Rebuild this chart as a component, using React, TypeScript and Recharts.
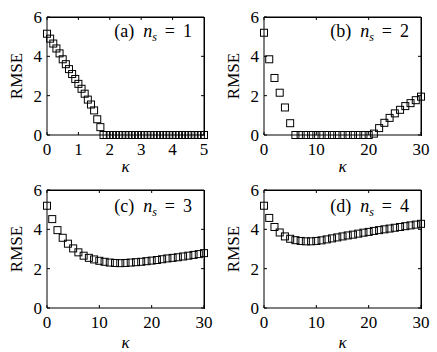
import React from 'react';
import { ScatterChart, Scatter, XAxis, YAxis, CartesianGrid } from 'recharts';

const kappaA = [
  0, 0.1, 0.2, 0.3, 0.4, 0.5, 0.6, 0.7, 0.8, 0.9,
  1.0, 1.1, 1.2, 1.3, 1.4, 1.5, 1.6, 1.7, 1.8, 1.9,
  2.0, 2.1, 2.2, 2.3, 2.4, 2.5, 2.6, 2.7, 2.8, 2.9,
  3.0, 3.1, 3.2, 3.3, 3.4, 3.5, 3.6, 3.7, 3.8, 3.9,
  4.0, 4.1, 4.2, 4.3, 4.4, 4.5, 4.6, 4.7, 4.8, 4.9, 5.0,
];
const rmseA = [
  5.15, 4.9, 4.65, 4.4, 4.15, 3.85, 3.6, 3.35, 3.1, 2.85,
  2.6, 2.35, 2.1, 1.8, 1.55, 1.25, 0.8, 0.4, 0, 0,
  0, 0, 0, 0, 0, 0, 0, 0, 0, 0,
  0, 0, 0, 0, 0, 0, 0, 0, 0, 0,
  0, 0, 0, 0, 0, 0, 0, 0, 0, 0, 0,
];

const kappaBCD = [
  0, 1, 2, 3, 4, 5, 6, 7, 8, 9, 10, 11, 12, 13, 14, 15,
  16, 17, 18, 19, 20, 21, 22, 23, 24, 25, 26, 27, 28, 29, 30,
];
const rmseB = [
  5.2, 3.85, 2.9, 2.15, 1.4, 0.6, 0, 0, 0, 0, 0, 0, 0, 0, 0, 0,
  0, 0, 0, 0, 0, 0.07, 0.35, 0.62, 0.87, 1.1, 1.28, 1.47, 1.62, 1.77, 1.95,
];
const rmseC = [
  5.2, 4.52, 3.96, 3.57, 3.27, 3.03, 2.83, 2.66, 2.55, 2.47, 2.4, 2.35, 2.31, 2.29, 2.28, 2.29,
  2.31, 2.33, 2.35, 2.38, 2.41, 2.44, 2.48, 2.52, 2.55, 2.58, 2.62, 2.66, 2.7, 2.74, 2.79,
];
const rmseD = [
  5.2, 4.58, 4.12, 3.84, 3.64, 3.52, 3.45, 3.41, 3.39, 3.39, 3.41, 3.44, 3.49, 3.54, 3.59, 3.64,
  3.69, 3.73, 3.78, 3.83, 3.87, 3.92, 3.96, 4.0, 4.04, 4.08, 4.12, 4.16, 4.2, 4.24, 4.28,
];

const xTicksA = [0, 1, 2, 3, 4, 5];
const xTicksBCD = [0, 10, 20, 30];
const yTicks = [0, 2, 4, 6];

const FONT = '"Liberation Serif", serif';
const W = 220;
const H = 176;
const Y_AXIS_W = 47;
const RIGHT = 16;
const PLOT_RIGHT = W - RIGHT;

const Square = (p: any) => (
  <rect x={p.cx - 3.5} y={p.cy - 3.5} width={7} height={7} fill="none" stroke="#000" strokeWidth={1} />
);

const XTick = (p: any) => (
  <text x={p.x} y={p.y} dy={12} textAnchor="middle" fontFamily={FONT} fontSize={17} fill="#000">
    {p.payload.value}
  </text>
);
const YTick = (p: any) => (
  <text x={p.x} y={p.y} dy={6} textAnchor="end" fontFamily={FONT} fontSize={17} fill="#000">
    {p.payload.value}
  </text>
);

type PanelProps = {
  left: number;
  top: number;
  xs: number[];
  ys: number[];
  xMax: number;
  xTicks: number[];
  letter: string;
  ns: string;
  plotTop: number;
  axisH: number;
  titleY: number;
};

const Panel = ({ left, top, xs, ys, xMax, xTicks, letter, ns, plotTop, axisH, titleY }: PanelProps) => {
  const data = xs.map((x, i) => ({ x, y: ys[i] }));
  const plotBottom = H - axisH;
  const midY = (plotTop + plotBottom) / 2;

  const hLine = (p: any) => {
    if (Math.abs(p.y1 - plotTop) < 0.6) {
      return <line key={p.key} x1={p.x1} y1={p.y1} x2={p.x2} y2={p.y2} stroke="#000" strokeWidth={1} />;
    }
    return <line key={p.key} x1={p.x2 - 3} y1={p.y1} x2={p.x2} y2={p.y2} stroke="#000" strokeWidth={1} />;
  };
  const vLine = (p: any) => {
    if (Math.abs(p.x1 - PLOT_RIGHT) < 0.6) {
      return <line key={p.key} x1={p.x1} y1={p.y1} x2={p.x2} y2={p.y2} stroke="#000" strokeWidth={1} />;
    }
    return <line key={p.key} x1={p.x1} y1={p.y1} x2={p.x2} y2={p.y1 + 3} stroke="#000" strokeWidth={1} />;
  };

  return (
    <>
      <div style={{ position: 'absolute', left, top, width: W, height: H }}>
        <ScatterChart width={W} height={H} margin={{ top: plotTop, right: RIGHT, left: 0, bottom: 0 }}>
          <CartesianGrid xAxisId="bottom" yAxisId="left" horizontal={hLine} vertical={vLine} stroke="#000" />
          <XAxis
            xAxisId="bottom"
            type="number"
            dataKey="x"
            domain={[0, xMax]}
            ticks={xTicks}
            height={axisH}
            stroke="#000"
            tickSize={3}
            tickMargin={5}
            tickLine={{ transform: 'translate(0,-3)' }}
            tick={XTick}
          />
          <YAxis
            yAxisId="left"
            type="number"
            dataKey="y"
            domain={[0, 6]}
            ticks={yTicks}
            width={Y_AXIS_W}
            stroke="#000"
            tickSize={3}
            tickMargin={2}
            tickLine={{ transform: 'translate(3,0)' }}
            tick={YTick}
          />
          <Scatter data={data} xAxisId="bottom" yAxisId="left" shape={Square} isAnimationActive={false} />
        </ScatterChart>
      </div>
      <div
        style={{
          position: 'absolute',
          left: left + Y_AXIS_W - 0.5,
          top: top + plotTop - 0.5,
          width: PLOT_RIGHT - Y_AXIS_W,
          height: plotBottom - plotTop,
          borderTop: '1px solid #000',
          borderRight: '1px solid #000',
          boxSizing: 'content-box',
          pointerEvents: 'none',
        }}
      />
      <svg
        width={W}
        height={H}
        style={{ position: 'absolute', left, top, pointerEvents: 'none', overflow: 'visible' }}
      >
        <text
          x={21.5}
          y={midY}
          transform={`rotate(-90, 21.5, ${midY})`}
          textAnchor="middle"
          fontFamily={FONT}
          fontSize={17}
          fill="#000"
        >
          RMSE
        </text>
        <text x={(Y_AXIS_W + PLOT_RIGHT) / 2} y={171.5} textAnchor="middle" fontFamily={FONT} fontSize={17} fontStyle="italic" fill="#000">
          κ
        </text>
        <text x={192} y={titleY} textAnchor="end" fontFamily={FONT} fontSize={18} fill="#000">
          <tspan>({letter})</tspan>
          <tspan dx={9} fontStyle="italic">n</tspan>
          <tspan fontStyle="italic" fontSize={12} dy={4}>s</tspan>
          <tspan dx={8} dy={-4}>=</tspan>
          <tspan dx={8}>{ns}</tspan>
        </text>
      </svg>
    </>
  );
};

export default function App() {
  return (
    <div style={{ position: 'absolute', left: 0, top: 0, width: 437, height: 352, background: '#fff' }}>
      <Panel left={0} top={0} xs={kappaA} ys={rmseA} xMax={5} xTicks={xTicksA} letter="a" ns="1" plotTop={17} axisH={41} titleY={37} />
      <Panel left={217} top={0} xs={kappaBCD} ys={rmseB} xMax={30} xTicks={xTicksBCD} letter="b" ns="2" plotTop={17} axisH={41} titleY={37} />
      <Panel left={0} top={176} xs={kappaBCD} ys={rmseC} xMax={30} xTicks={xTicksBCD} letter="c" ns="3" plotTop={14} axisH={44} titleY={36} />
      <Panel left={217} top={176} xs={kappaBCD} ys={rmseD} xMax={30} xTicks={xTicksBCD} letter="d" ns="4" plotTop={14} axisH={44} titleY={36} />
    </div>
  );
}
